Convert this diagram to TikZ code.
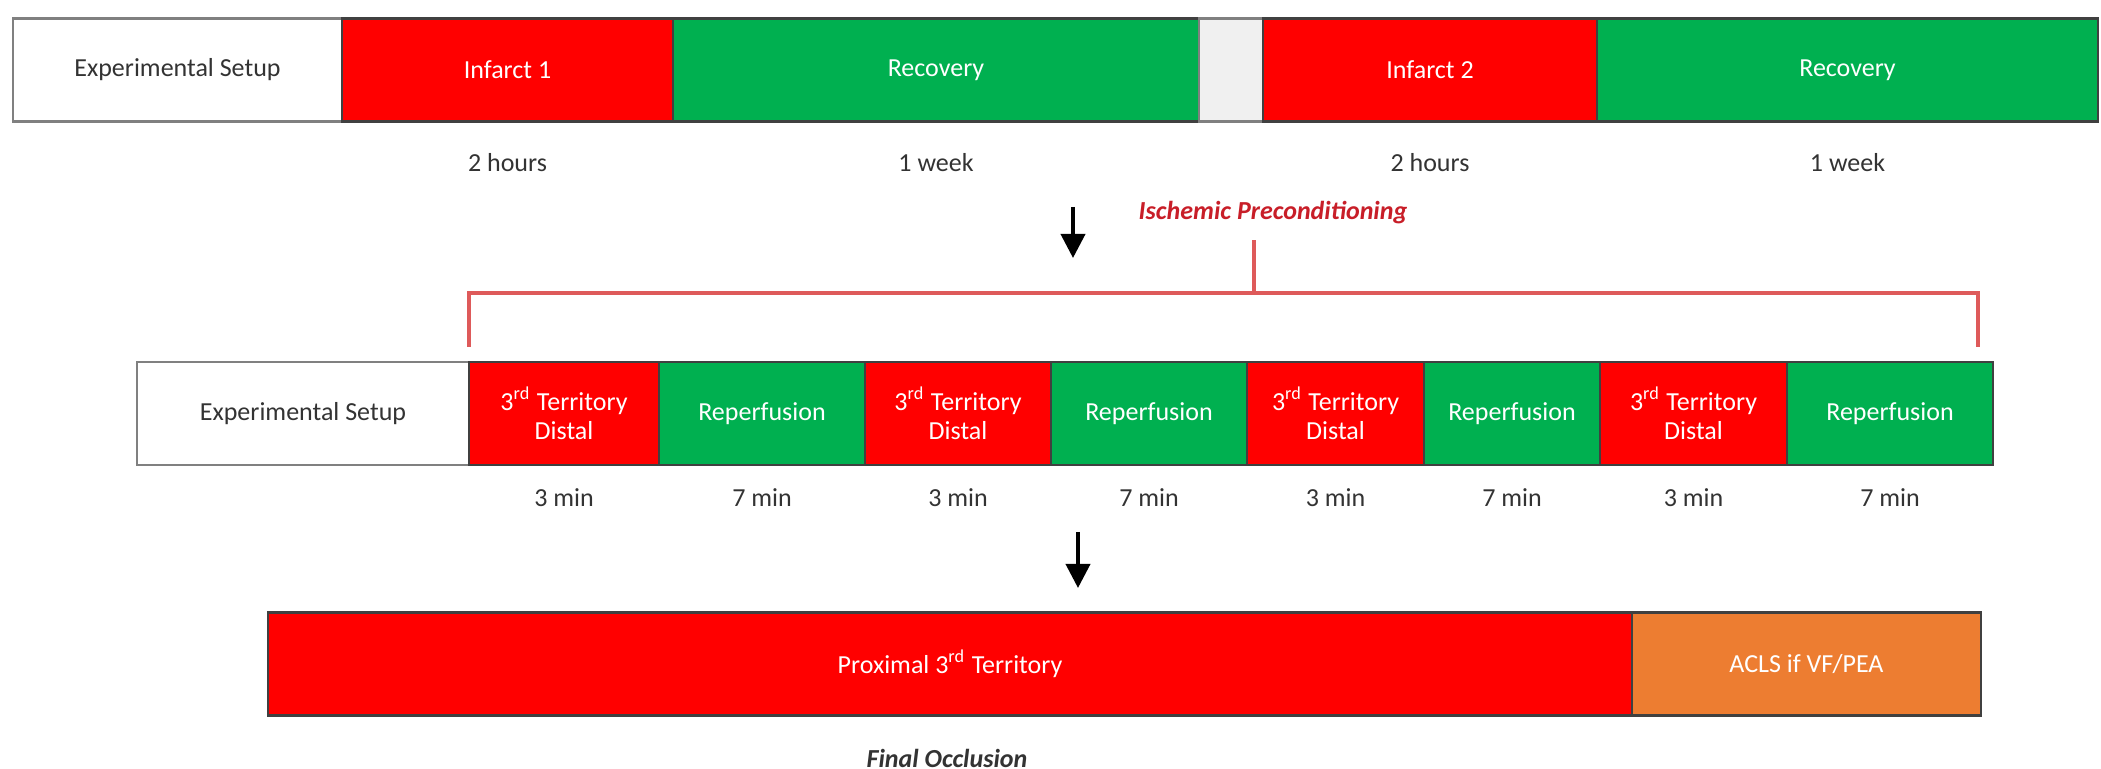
\documentclass[tikz,border=0pt]{standalone}
\usepackage{fontspec}
\setmainfont{Carlito}
\usetikzlibrary{positioning,arrows.meta}

\definecolor{infred}{RGB}{255,0,0}
\definecolor{recgreen}{RGB}{0,176,80}
\definecolor{aclsorange}{RGB}{237,125,49}
\definecolor{brackred}{RGB}{222,90,90}
\definecolor{ipcred}{RGB}{200,30,40}

\begin{document}
\begin{tikzpicture}[
    phase/.style={rectangle,draw=black!75,line width=0.7pt,inner sep=0pt,outer sep=0pt,minimum height=1.03cm,text=white,align=center,font=\fontsize{7.4}{8.4}\selectfont},
    setupbox/.style={phase,fill=white,draw=black!50,text=black!80},
    redbox/.style={phase,fill=infred},
    greenbox/.style={phase,fill=recgreen},
    gapbox/.style={phase,fill=black!6,draw=black!50},
    orangebox/.style={phase,fill=aclsorange},
    timelbl/.style={inner sep=0pt,text=black!80,font=\fontsize{7.4}{8.4}\selectfont},
    arr/.style={-{Triangle[length=2.4mm,width=2.4mm]},line width=1.1pt},
    bracket/.style={draw=brackred,line width=0.9pt}
    ]
    \useasboundingbox (0,0) rectangle (21.01,-7.69);

    % top timeline:
    \node[setupbox,minimum width=3.29cm] (s1) at (1.775,-0.70) {Experimental Setup};
    \node[redbox,minimum width=3.31cm,right=0pt of s1] (inf1) {Infarct 1};
    \node[greenbox,minimum width=5.26cm,right=0pt of inf1] (rec1) {Recovery};
    \node[gapbox,minimum width=0.64cm,right=0pt of rec1] (gap) {};
    \node[redbox,minimum width=3.34cm,right=0pt of gap] (inf2) {Infarct 2};
    \node[greenbox,minimum width=5.01cm,right=0pt of inf2] (rec2) {Recovery};

    % durations:
    \node[timelbl] (t1) at ([yshift=-4.1mm]inf1.south) {2 hours};
    \node[timelbl] (t2) at ([yshift=-4.1mm]rec1.south) {1 week};
    \node[timelbl] (t3) at ([yshift=-4.1mm]inf2.south) {2 hours};
    \node[timelbl] (t4) at ([yshift=-4.1mm]rec2.south) {1 week};

    % first arrow:
    \coordinate (a1) at (10.73,-2.07);
    \coordinate (a1e) at (10.73,-2.58);
    \draw[arr] (a1) -- (a1e);

    % preconditioning cycles:
    \node[setupbox,minimum width=3.32cm] (m0) at (3.03,-4.135) {Experimental Setup};
    \foreach \i/\w in {1/1.90,2/2.06,3/1.86,4/1.96,5/1.77,6/1.76,7/1.87,8/2.06} {
      \pgfmathtruncatemacro{\prev}{\i-1}
      \ifodd\i
        \node[redbox,minimum width=\w cm,right=0pt of m\prev] (m\i) {3\textsuperscript{rd} Territory\\Distal};
        \node[timelbl] (c\i) at ([yshift=-3.3mm]m\i.south) {3 min};
      \else
        \node[greenbox,minimum width=\w cm,right=0pt of m\prev] (m\i) {Reperfusion};
        \node[timelbl] (c\i) at ([yshift=-3.3mm]m\i.south) {7 min};
      \fi
    }

    % bracket:
    \coordinate (bl) at ([yshift=1.5mm]m1.north west);
    \coordinate (br) at (19.78,-3.47);
    \coordinate (btop) at (12.54,-2.93);
    \coordinate (bstem) at (12.54,-2.40);
    \draw[bracket] (bl) -- (bl |- btop) -- (br |- btop) -- (br);
    \draw[bracket] (btop) -- (bstem);
    \node[text=ipcred,font=\fontsize{7.4}{8.4}\selectfont\bfseries\itshape] (ipc) at (12.73,-2.13) {Ischemic Preconditioning};

    % second arrow:
    \coordinate (a2) at (10.78,-5.32);
    \coordinate (a2e) at (10.78,-5.88);
    \draw[arr] (a2) -- (a2e);

    % final occlusion:
    \node[redbox,minimum width=13.64cm] (prox) at (9.50,-6.64) {Proximal 3\textsuperscript{rd} Territory};
    \node[orangebox,minimum width=3.49cm,right=0pt of prox] (acls) {ACLS if VF/PEA};
    \node[timelbl,font=\fontsize{7.4}{8.4}\selectfont\bfseries\itshape] (fin) at (9.47,-7.58) {Final Occlusion};

\end{tikzpicture}
\end{document}
